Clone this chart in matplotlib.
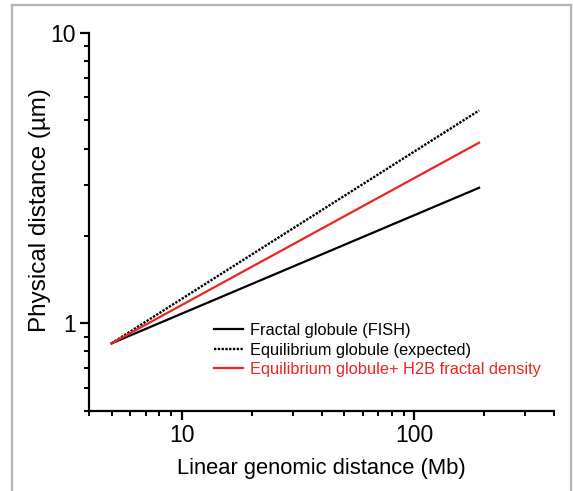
import numpy as np
import matplotlib.pyplot as plt
from matplotlib.lines import Line2D
from matplotlib.ticker import FixedLocator, NullFormatter

plt.rcParams['font.family'] = ['Liberation Sans', 'DejaVu Sans']

# line end points (log-log straight lines)
genomic_mb = [5, 190]
fractal_fish = [0.853, 2.93]
equil_expected = [0.853, 5.41]
equil_h2b = [0.853, 4.19]

labels = ["Fractal globule (FISH)",
          "Equilibrium globule (expected)",
          "Equilibrium globule+ H2B fractal density"]

red = '#ee2424'

fig = plt.figure(figsize=(5.73, 4.91), dpi=100)
ax = fig.add_axes([0.1553, 0.1635, 0.9674 - 0.1553, 0.9328 - 0.1635])

ax.plot(genomic_mb, fractal_fish, color='black', lw=1.6, label=labels[0])
ax.plot(genomic_mb, equil_expected, color='black', lw=1.7, ls=(0, (1, 0.6)), label=labels[1])
ax.plot(genomic_mb, equil_h2b, color=red, lw=1.6, label=labels[2])

ax.set_xscale('log')
ax.set_yscale('log')
ax.set_xlim(4, 400)
ax.set_ylim(0.5, 10)

ax.xaxis.set_major_locator(FixedLocator([10, 100]))
ax.xaxis.set_minor_locator(FixedLocator([4, 5, 6, 7, 8, 9, 20, 30, 40, 50, 60, 70, 80, 90, 200, 300, 400]))
ax.yaxis.set_major_locator(FixedLocator([1, 10]))
ax.yaxis.set_minor_locator(FixedLocator([0.5, 0.6, 0.7, 0.8, 0.9, 2, 3, 4, 5, 6, 7, 8, 9]))
ax.set_xticklabels(['10', '100'])
ax.set_yticklabels(['1', '10'])
ax.xaxis.set_minor_formatter(NullFormatter())
ax.yaxis.set_minor_formatter(NullFormatter())

for s in ['top', 'right']:
    ax.spines[s].set_visible(False)
for s in ['left', 'bottom']:
    ax.spines[s].set_linewidth(1.6)

ax.tick_params(which='major', direction='out', length=6.5, width=1.6, labelsize=16.5, pad=3)
ax.tick_params(which='minor', direction='out', length=3.8, width=1.4)

ax.set_xlabel('Linear genomic distance (Mb)', fontsize=15.8, labelpad=8)
ax.set_ylabel('Physical distance (µm)', fontsize=17.5)
ax.yaxis.set_label_coords(-0.082, 0.53)

leg = ax.legend(loc='center left', bbox_to_anchor=(0.2687, 0.1607), frameon=False,
                fontsize=11.8, borderpad=0, borderaxespad=0, handlelength=1.77,
                handletextpad=0.43, labelspacing=0.27)
leg.get_texts()[2].set_color(red)

# grey frame around the panel
frame = dict(color='#b4b4b4', lw=1.6, transform=fig.transFigure)
fig.add_artist(Line2D([0.021, 0.021], [0.0, 0.9898], **frame))
fig.add_artist(Line2D([0.021, 0.9965], [0.9898, 0.9898], **frame))
fig.add_artist(Line2D([0.9965, 0.9965], [0.0, 0.9898], **frame))

fig.savefig('out.png', dpi=100)
